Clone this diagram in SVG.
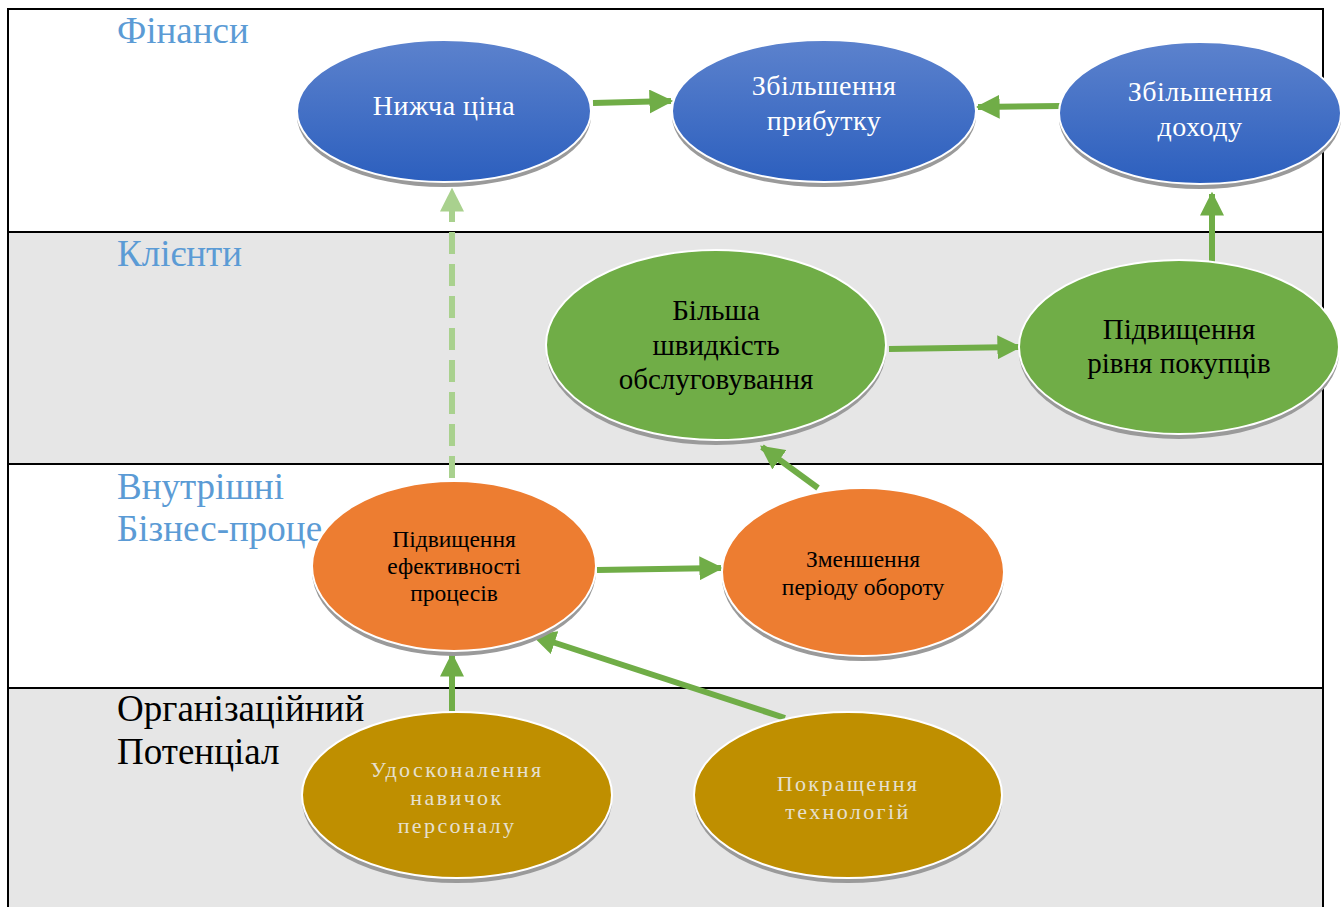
<svg xmlns="http://www.w3.org/2000/svg" width="1342" height="907" viewBox="0 0 1342 907">
<style>
.lbl{font-family:"Liberation Serif","Times New Roman",serif;font-size:37px;fill:#5b9bd5}
.lblk{font-family:"Liberation Serif","Times New Roman",serif;font-size:37px;fill:#000}
.t{font-family:"Liberation Serif","Times New Roman",serif;text-anchor:middle}
.tw{fill:#fff;font-size:28px;letter-spacing:0.5px}
.tg{fill:#000;font-size:29px}
.to{fill:#000;font-size:23.5px}
.ty{fill:#e6e0d0;font-size:22px;letter-spacing:2.4px}
.sh{fill:#9a9a9a}
.edge{stroke:#fff;stroke-width:2}
.con{stroke:#70ad47;stroke-width:6;fill:none}
.dash{stroke:#a9d18e;stroke-width:6;fill:none;stroke-dasharray:22 10}
</style>
<defs>
<linearGradient id="blue" x1="0" y1="0" x2="0" y2="1">
<stop offset="0" stop-color="#5c82cd"/>
<stop offset="1" stop-color="#2c5fbe"/>
</linearGradient>
<marker id="ah" viewBox="0 0 10 10" refX="9" refY="5" markerWidth="24" markerHeight="24" markerUnits="userSpaceOnUse" orient="auto">
<path d="M0,0 L10,5 L0,10 Z" fill="#70ad47"/>
</marker>
<marker id="ahl" viewBox="0 0 10 10" refX="9" refY="5" markerWidth="24" markerHeight="24" markerUnits="userSpaceOnUse" orient="auto">
<path d="M0,0 L10,5 L0,10 Z" fill="#a9d18e"/>
</marker>
</defs>
<rect x="0" y="0" width="1342" height="907" fill="#fff"/>
<g id="bands">
<rect x="9" y="232" width="1314" height="232" fill="#e6e6e6"/>
<rect x="9" y="688" width="1314" height="230" fill="#e6e6e6"/>
<path d="M8,907 V9 H1323 V907" fill="none" stroke="#000" stroke-width="2"/>
<line x1="8" y1="232" x2="1323" y2="232" stroke="#000" stroke-width="2"/>
<line x1="8" y1="464" x2="1323" y2="464" stroke="#000" stroke-width="2"/>
<line x1="8" y1="688" x2="1323" y2="688" stroke="#000" stroke-width="2"/>
</g>
<g id="labels">
<text class="lbl" x="117" y="43">Фінанси</text>
<text class="lbl" x="117" y="266">Клієнти</text>
<text class="lbl" x="117" y="499">Внутрішні</text>
<text class="lbl" x="117" y="541">Бізнес-проце</text>
<text class="lblk" x="117" y="721">Організаційний</text>
<text class="lblk" x="117" y="764">Потенціал</text>
</g>
<g id="connectors">
<line class="dash" x1="452" y1="478" x2="452" y2="190" marker-end="url(#ahl)"/>
<line class="con" x1="593" y1="103" x2="671" y2="101" marker-end="url(#ah)"/>
<line class="con" x1="1061" y1="106" x2="978" y2="107" marker-end="url(#ah)"/>
<line class="con" x1="1212" y1="263" x2="1212" y2="194" marker-end="url(#ah)"/>
<line class="con" x1="889" y1="349" x2="1019" y2="347" marker-end="url(#ah)"/>
<line class="con" x1="818" y1="488" x2="762" y2="447" marker-end="url(#ah)"/>
<line class="con" x1="597" y1="570" x2="721" y2="568" marker-end="url(#ah)"/>
<line class="con" x1="452" y1="711" x2="452" y2="655" marker-end="url(#ah)"/>
<line class="con" x1="785" y1="718" x2="534" y2="636" marker-end="url(#ah)"/>
</g>
<g id="n1">
<ellipse class="sh" cx="444" cy="116" rx="147" ry="71"/>
<ellipse class="edge" cx="444" cy="111" rx="147" ry="71" fill="url(#blue)"/>
<text class="t tw" x="444" y="115">Нижча ціна</text>
</g>
<g id="n2">
<ellipse class="sh" cx="824" cy="116" rx="152" ry="71"/>
<ellipse class="edge" cx="824" cy="111" rx="152" ry="71" fill="url(#blue)"/>
<text class="t tw" x="824" y="95">Збільшення</text>
<text class="t tw" x="824" y="130">прибутку</text>
</g>
<g id="n3">
<ellipse class="sh" cx="1200" cy="118" rx="141" ry="71"/>
<ellipse class="edge" cx="1200" cy="113" rx="141" ry="71" fill="url(#blue)"/>
<text class="t tw" x="1200" y="101">Збільшення</text>
<text class="t tw" x="1200" y="136">доходу</text>
</g>
<g id="n4">
<ellipse class="sh" cx="716" cy="350" rx="170" ry="95"/>
<ellipse class="edge" cx="716" cy="345" rx="170" ry="95" fill="#70ad47" stroke-width="3"/>
<text class="t tg" x="716" y="320">Більша</text>
<text class="t tg" x="716" y="355">швидкість</text>
<text class="t tg" x="716" y="389">обслуговування</text>
</g>
<g id="n5">
<ellipse class="sh" cx="1179" cy="352" rx="160" ry="87"/>
<ellipse class="edge" cx="1179" cy="347" rx="160" ry="87" fill="#70ad47" stroke-width="3"/>
<text class="t tg" x="1179" y="339">Підвищення</text>
<text class="t tg" x="1179" y="373">рівня покупців</text>
</g>
<g id="n6">
<ellipse class="sh" cx="454" cy="571" rx="142" ry="85"/>
<ellipse class="edge" cx="454" cy="566" rx="142" ry="85" fill="#ed7d31"/>
<text class="t to" x="454" y="547">Підвищення</text>
<text class="t to" x="454" y="574">ефективності</text>
<text class="t to" x="454" y="601">процесів</text>
</g>
<g id="n7">
<ellipse class="sh" cx="863" cy="577" rx="141" ry="84"/>
<ellipse class="edge" cx="863" cy="572" rx="141" ry="84" fill="#ed7d31"/>
<text class="t to" x="863" y="567">Зменшення</text>
<text class="t to" x="863" y="595">періоду обороту</text>
</g>
<g id="n8">
<ellipse class="sh" cx="457" cy="800" rx="155" ry="83"/>
<ellipse class="edge" cx="457" cy="795" rx="155" ry="83" fill="#bf8f00"/>
<text class="t ty" x="457" y="777">Удосконалення</text>
<text class="t ty" x="457" y="805">навичок</text>
<text class="t ty" x="457" y="833">персоналу</text>
</g>
<g id="n9">
<ellipse class="sh" cx="848" cy="800" rx="154" ry="83"/>
<ellipse class="edge" cx="848" cy="795" rx="154" ry="83" fill="#bf8f00"/>
<text class="t ty" x="848" y="791">Покращення</text>
<text class="t ty" x="848" y="819">технологій</text>
</g>
</svg>
